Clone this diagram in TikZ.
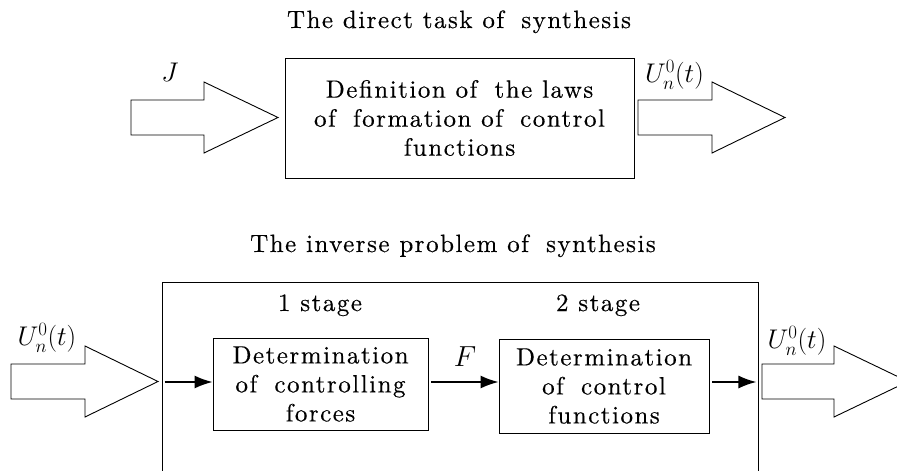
\RequirePackage{fix-cm}
\documentclass[tikz,border=0pt]{standalone}
\usepackage{fontspec}
\setmainfont{lmroman10-regular}[Extension=.otf, LetterSpace=6, FakeBold=0.4]
\usetikzlibrary{arrows.meta}
\newcommand\BlockArr[4]{%
  \draw[blk] (#1,{#4-17.5}) -- (#2,{#4-17.5}) -- (#2,{#4-35.5}) -- (#3,#4)
    -- (#2,{#4+35.5}) -- (#2,{#4+17.5}) -- (#1,{#4+17.5}) -- cycle;}
\newcommand\wsp{\hspace{0.3em}}
\begin{document}
\begin{tikzpicture}[x=1pt,y=-1pt,
  txt/.style={font=\fontsize{25}{29}\selectfont, inner sep=0pt},
  mth/.style={font=\fontsize{27}{29}\selectfont, inner sep=0pt},
  box/.style={txt, draw, line width=0.9pt, align=center},
  blk/.style={draw, line width=0.9pt, fill=white},
  conn/.style={line width=1.6pt, -{Latex[length=18pt,width=13pt]}}]
\useasboundingbox (0,0) rectangle (897,471);
\clip (0,0) rectangle (897,471);
% titles
\node[txt, anchor=base] (t1) at (459,28) {The direct task of\wsp{} synthesis};
\node[txt, anchor=base] (t2) at (453,252) {The inverse problem of\wsp{} synthesis};
% top part
\node[box, minimum width=349pt, minimum height=120pt] (top) at (459.5,118)
  {Definition of\wsp{} the laws\\of\wsp{} formation of\wsp{} control\\functions};
\BlockArr{131}{204}{278}{117.5}
\BlockArr{638}{712}{785}{117.5}
\node[mth] (J) at (170,72) {$J$};
\node[mth] (u1) at (674.5,75) {$U_n^0(t)$};
% bottom part
\node[draw, line width=0.9pt, minimum width=596pt, minimum height=198pt, inner sep=0pt] (frame) at (460,381) {};
\node[box, minimum width=215pt, minimum height=92pt] (b1) at (320.5,384)
  {Determination\\of\wsp{} controlling\\forces};
\node[box, minimum width=210pt, minimum height=94pt] (b2) at (604,386)
  {Determination\\of\wsp{} control\\functions};
\node[txt, anchor=base] (s1) at (320,311) {1 stage};
\node[txt, anchor=base] (s2) at (598,311) {2 stage};
\BlockArr{11}{85}{158}{381.5}
\BlockArr{762}{834}{908}{381.5}
\node[mth] (u2) at (47,338) {$U_n^0(t)$};
\node[mth] (u3) at (797,341) {$U_n^0(t)$};
\node[mth, font=\fontsize{29}{29}\selectfont] (F) at (465,357) {$F$};
\coordinate (fy) at (0,382);
\coordinate (c1) at ([xshift=3pt]frame.west);
\coordinate (c2) at ([xshift=3pt]b1.east);
\coordinate (c3) at ([xshift=3pt]b2.east);
\coordinate (c4) at ([xshift=-2pt]frame.east);
\draw[conn] (c1 |- fy) -- (b1.west |- fy);
\draw[conn] (c2 |- fy) -- (b2.west |- fy);
\draw[conn] (c3 |- fy) -- (c4 |- fy);
\end{tikzpicture}
\end{document}
